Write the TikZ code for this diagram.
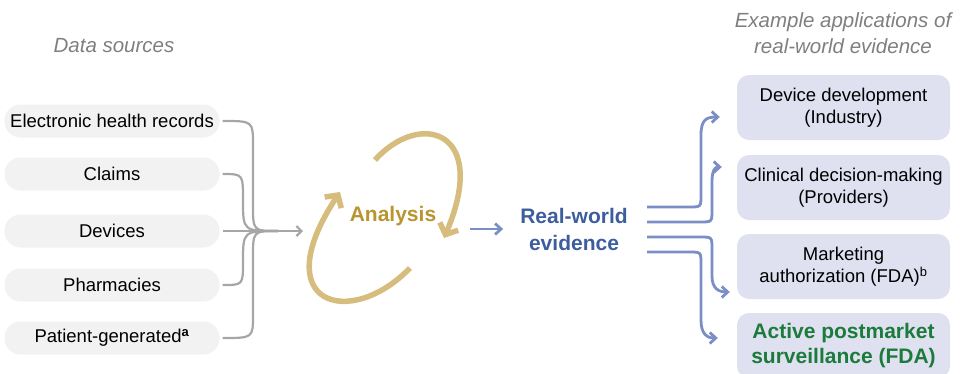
\documentclass[tikz,border=0pt]{standalone}
\usepackage{fontspec}
\setmainfont{Liberation Sans}
\usepackage{tikz}
\usepackage{xcolor}
\usetikzlibrary{arrows.meta, positioning, calc}
\definecolor{cSrc}{HTML}{F2F2F2}
\definecolor{cFeed}{HTML}{A6A6A6}
\definecolor{cGold}{HTML}{D6BD7E}
\definecolor{cGoldText}{HTML}{B8952F}
\definecolor{cBlue}{HTML}{7B8FC6}
\definecolor{cBlueText}{HTML}{3D5E9E}
\definecolor{cApp}{HTML}{DFE1F0}
\definecolor{cGreen}{HTML}{1C7B3C}
\definecolor{cHead}{HTML}{7F7F7F}
\tikzset{
	src/.style      ={rectangle, rounded corners=16pt, fill=cSrc, minimum width=215pt, minimum height=33pt, inner sep=1pt, font=\fontsize{18.5}{22}\selectfont},
	app/.style      ={rectangle, rounded corners=12pt, fill=cApp, minimum width=213pt, minimum height=65pt, align=center, font=\fontsize{18.5}{22.5}\selectfont},
	heading/.style  ={align=center, text=cHead, font=\fontsize{20.5}{26}\selectfont\itshape},
	% connector styles
	feed/.style     ={cFeed, line width=2.2pt},
	feedarrow/.style={feed, -{Straight Barb[length=5pt, width=10pt]}},
	loopline/.style ={cGold, line width=5.5pt, -{Straight Barb[length=9pt, width=20pt]}},
	evline/.style   ={cBlue, line width=2.8pt, -{Straight Barb[length=6pt, width=11pt]}},
}
\begin{document}
\begin{tikzpicture}[x=1pt, y=-1pt]
	\useasboundingbox (0,0) rectangle (961,373);
	% data sources
	\node[heading] (srchead) at (114,46) {Data sources};
	\node[src] (ehr) at (112,121) {Electronic health records};
	\node[src] (claims) at (112,174) {Claims};
	\node[src] (devices) at (112,231) {Devices};
	\node[src] (pharm) at (112,285) {Pharmacies};
	\node[src] (patient) at (112,338) {Patient-generated\textsuperscript{\textbf{a}}};
	\coordinate (merge) at (278,231);
	\coordinate (intake) at (303,231);
	\draw[feed] ([xshift=3pt]ehr.east) .. controls (253,121) .. (253,145) -- (253,205) .. controls (253,231) .. (merge);
	\draw[feed] ([xshift=3pt]claims.east) .. controls (243,174) .. (243,200) .. controls (243,231) .. (merge);
	\draw[feed] ([xshift=3pt]devices.east) -- (merge);
	\draw[feed] ([xshift=3pt]pharm.east) .. controls (243,285) .. (243,262) .. controls (243,231) .. (merge);
	\draw[feed] ([xshift=3pt]patient.east) .. controls (253,338) .. (253,315) -- (253,257) .. controls (253,231) .. (merge);
	\draw[feedarrow] (merge) -- (intake);
	% analysis loop
	\node[text=cGoldText, font=\fontsize{21}{25}\selectfont\bfseries] (analysis) at (393,216) {Analysis};
	\draw[loopline] (375,160) .. controls (420,110) and (490,130) .. (444,238);
	\draw[loopline] (410,268) .. controls (350,330) and (265,305) .. (340,192);
	% real-world evidence
	\node[align=center, inner sep=0pt, text=cBlueText, font=\fontsize{21}{27}\selectfont\bfseries] (rwe) at (574,229) {Real-world\\evidence};
	\draw[evline] ([xshift=30pt, yshift=-13pt]analysis.east) -- ([xshift=-17pt]rwe.west |- 0,229);
	% applications
	\node[heading] (apphead) at (843,33) {Example applications of\\real-world evidence};
	\node[app] (dev) at (843.5,107.5) {Device development\\(Industry)};
	\node[app] (clin) at (843.5,187.5) {Clinical decision-making\\(Providers)};
	\node[app] (mkt) at (843.5,266.5) {Marketing\\authorization (FDA)\textsuperscript{b}};
	\node[app, text=cGreen, font=\fontsize{21}{25}\selectfont\bfseries] (pms) at (843.5,345.5) {Active postmarket\\surveillance (FDA)};
	\draw[evline] (647,207) -- (689,207) .. controls (701,207) .. (701,195) -- (701,135) .. controls (701,119) and (707,117) .. ($(dev.west)+(-17,9.5)$);
	\draw[evline] (647,222) -- (700,222) .. controls (712,222) .. (712,210) -- (712,182) .. controls (712,170) and (715,167) .. ($(clin.west)+(-15,-20.5)$);
	\draw[evline] (647,237) -- (700,237) .. controls (712,237) .. (712,249) -- (712,276) .. controls (712,288) and (718,292) .. ($(mkt.west)+(-7,25.5)$);
	\draw[evline] (647,252) -- (689,252) .. controls (701,252) .. (701,264) -- (701,320) .. controls (701,334) and (707,338) .. ($(pms.west)+(-19,-7.5)$);
\end{tikzpicture}
\end{document}
